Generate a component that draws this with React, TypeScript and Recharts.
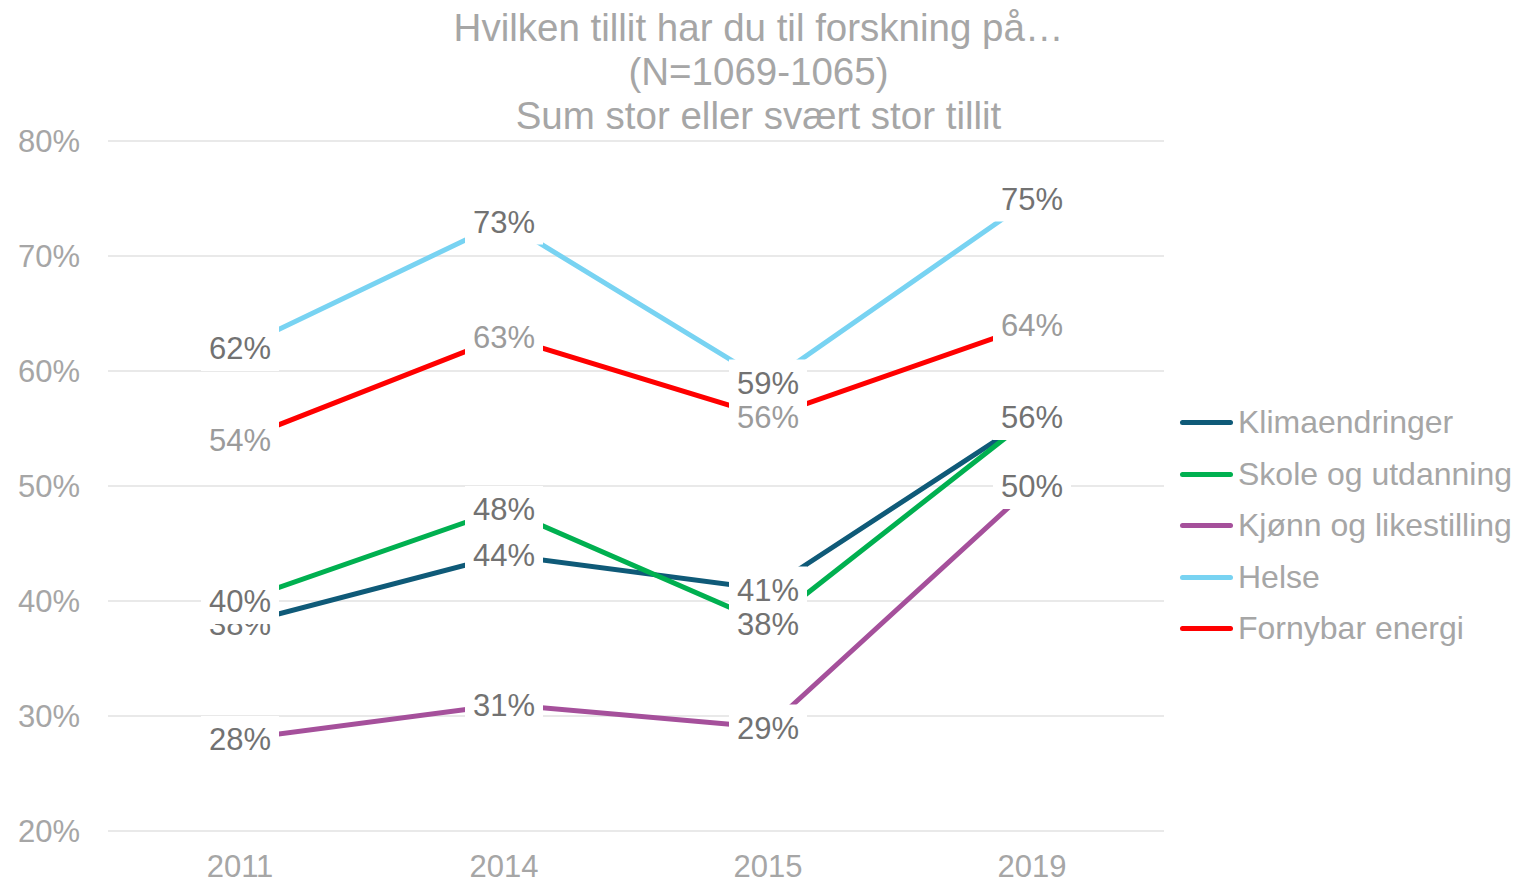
import { LineChart, Line, XAxis, YAxis, CartesianGrid, LabelList } from "recharts"

const years = ["2011", "2014", "2015", "2019"]
const klima = [38, 44, 41, 56]
const skole = [40, 48, 38, 56]
const kjonn = [28, 31, 29, 50]
const helse = [62, 73, 59, 75]
const fornybar = [54, 63, 56, 64]
const yTicks = [20, 30, 40, 50, 60, 70, 80]

const series = [
  { key: "klima", name: "Klimaendringer", values: klima, color: "#0F5A78", labelColor: "#727272" },
  { key: "skole", name: "Skole og utdanning", values: skole, color: "#00B050", labelColor: "#727272" },
  { key: "kjonn", name: "Kjønn og likestilling", values: kjonn, color: "#A5509B", labelColor: "#727272" },
  { key: "helse", name: "Helse", values: helse, color: "#78D3F2", labelColor: "#727272" },
  { key: "fornybar", name: "Fornybar energi", values: fornybar, color: "#FF0000", labelColor: "#9B9B9B" },
]

const data = years.map((year, i) => {
  const row: Record<string, string | number> = { year }
  series.forEach((s) => (row[s.key] = s.values[i]))
  return row
})

const font = '"Liberation Sans", Arial, sans-serif'
const grey = "#A6A6A6"

// white box behind each value, like the Excel data labels
const makeLabel = (color: string) => (props: any) => {
  const vb = props.viewBox || {}
  const x = props.x ?? vb.x
  const y = props.y ?? vb.y
  if (x == null || y == null) return null
  return (
    <g>
      <rect x={x - 39} y={y - 23} width={78} height={46} fill="#fff" />
      <text x={x} y={y} dy="0.355em" textAnchor="middle" fontSize={31} fontFamily={font} fill={color}>
        {props.value}%
      </text>
    </g>
  )
}

export default function App() {
  return (
    <div style={{ position: "absolute", left: 0, top: 0, width: 1517, height: 883, background: "#fff", fontFamily: font }}>
      <div
        style={{
          position: "absolute",
          left: 0,
          top: 6,
          width: 1517,
          textAlign: "center",
          fontSize: 38.5,
          lineHeight: "44px",
          color: grey,
        }}
      >
        <div>Hvilken tillit har du til forskning på…</div>
        <div>(N=1069-1065)</div>
        <div>Sum stor eller svært stor tillit</div>
      </div>
      <LineChart width={1517} height={883} data={data} margin={{ top: 141, right: 353, bottom: 22, left: 0 }}>
        <CartesianGrid vertical={false} stroke="#E2E2E2" strokeWidth={1.5} />
        <XAxis
          dataKey="year"
          scale="point"
          height={30}
          padding={{ left: 132, right: 132 }}
          axisLine={false}
          tickLine={false}
          tickSize={0}
          tickMargin={24}
          tick={{ fontSize: 31, fill: grey, fontFamily: font }}
        />
        <YAxis
          width={108}
          domain={[20, 80]}
          ticks={yTicks}
          axisLine={false}
          tickLine={false}
          tickSize={0}
          tickMargin={28}
          tickFormatter={(v) => `${v}%`}
          tick={{ fontSize: 31, fill: grey, fontFamily: font }}
        />
        {series.map((s) => (
          <Line
            key={s.key}
            dataKey={s.key}
            stroke={s.color}
            strokeWidth={5}
            dot={false}
            activeDot={false}
            isAnimationActive={false}
          />
        ))}
        {series.map((s) => (
          <Line
            key={s.key + "-lbl"}
            dataKey={s.key}
            stroke="none"
            dot={false}
            activeDot={false}
            legendType="none"
            isAnimationActive={false}
          >
            <LabelList dataKey={s.key} content={makeLabel(s.labelColor)} />
          </Line>
        ))}
      </LineChart>
      <div style={{ position: "absolute", left: 1178, top: 397 }}>
        {series.map((s) => (
          <div key={s.key} style={{ display: "flex", alignItems: "center", height: 51.5 }}>
            <div style={{ width: 53, height: 5, borderRadius: 3, background: s.color, marginLeft: 2, marginRight: 5 }} />
            <span style={{ fontSize: 32, color: grey, whiteSpace: "nowrap" }}>{s.name}</span>
          </div>
        ))}
      </div>
    </div>
  )
}
